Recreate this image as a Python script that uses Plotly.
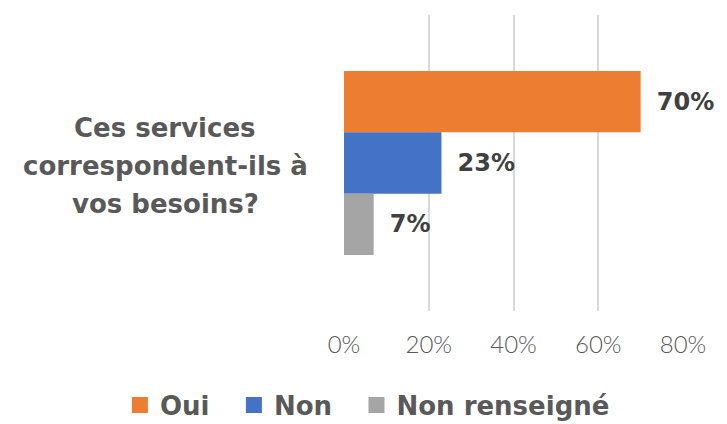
import plotly.graph_objects as go

# Survey question and answer shares
question_lines = ["Ces services", "correspondent-ils à", "vos besoins?"]
series_names = ["Oui", "Non", "Non renseigné"]
shares = [0.70, 0.23, 0.07]
colors = ["#ED7D31", "#4472C4", "#A5A5A5"]
tick_values = [0, 0.2, 0.4, 0.6, 0.8]
tick_labels = ["0%", "20%", "40%", "60%", "80%"]

question = " ".join(question_lines)

BOLD_FONT = "DejaVu Sans"
TICK_FONT = "Lato"
GREY = "#595959"

fig = go.Figure()
for name, val, col in zip(series_names, shares, colors):
    fig.add_trace(go.Bar(
        y=[question], x=[val], name=name, orientation="h",
        marker=dict(color=col, line=dict(width=0)),
        text=[val], texttemplate="\u2009\u00a0%{x:.0%}",
        textposition="outside", cliponaxis=False,
        textfont=dict(family=BOLD_FONT, size=24, color="#404040", weight="bold"),
        showlegend=False, legendgroup=name,
    ))
    # larger square swatch for the legend entry, with a little trailing room
    fig.add_trace(go.Scatter(
        x=[None], y=[None], mode="markers", name=name + "\u00a0\u2009\u2009",
        legendgroup=name,
        marker=dict(symbol="square", size=18, color=col, line=dict(width=0)),
        showlegend=True,
    ))

# the question, one centred line per annotation
line_y = [0.618, 0.490, 0.361]
annotations = [
    dict(text=txt, xref="paper", yref="paper", x=-0.528, y=yy,
         xanchor="center", yanchor="middle", showarrow=False,
         font=dict(family=BOLD_FONT, size=26, color=GREY, weight="bold"))
    for txt, yy in zip(question_lines, line_y)
]

fig.update_layout(
    width=727, height=424,
    margin=dict(l=344, r=44, t=15, b=113, autoexpand=False),
    paper_bgcolor="white", plot_bgcolor="white",
    barmode="group", bargap=0.378, bargroupgap=0,
    showlegend=True,
    legend=dict(
        orientation="h", x=-0.661, xanchor="left", y=-0.318, yanchor="middle",
        font=dict(family=BOLD_FONT, size=26, color=GREY, weight="bold"),
        itemsizing="trace", bgcolor="rgba(0,0,0,0)",
    ),
    xaxis=dict(
        range=[0, 0.8], tickvals=tick_values, ticktext=tick_labels,
        showgrid=True, gridcolor="#D9D9D9", gridwidth=2,
        zeroline=False, showline=False, ticks="",
        tickfont=dict(family=TICK_FONT, size=24, color=GREY, weight=300),
        ticklabelstandoff=17,
    ),
    yaxis=dict(
        autorange="reversed", showticklabels=False, showgrid=False,
        zeroline=False, showline=False, ticks="",
    ),
    annotations=annotations,
)

fig.write_html("out.html")
